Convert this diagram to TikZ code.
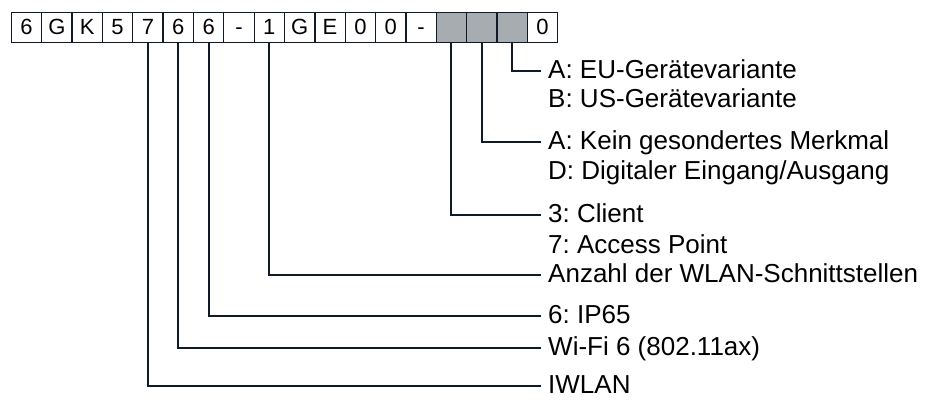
\documentclass[tikz,border=0pt]{standalone}
\usepackage{fontspec}
\setmainfont{Liberation Sans}
\frenchspacing
\definecolor{strich}{RGB}{16,26,40}
\definecolor{grau}{RGB}{166,172,176}
\tikzset{
  feld/.style={draw=strich,line width=1.3pt,minimum width=30.35pt,minimum height=30pt,inner sep=0pt,anchor=north west,text height=15pt,text depth=0pt,font=\fontsize{22}{26}\selectfont},
  weiss/.style={fill=white},
  dunkel/.style={fill=grau},
  beschr/.style={anchor=west,inner sep=0pt,text height=15pt,text depth=0pt,font=\fontsize{26}{30}\selectfont},
  leitung/.style={draw=strich,line width=2pt}
}
\begin{document}
\begin{tikzpicture}[x=1pt,y=-1pt]
\useasboundingbox (0,0) rectangle (933,399);
\foreach \z/\s [count=\i] in {6/weiss,G/weiss,K/weiss,5/weiss,7/weiss,6/weiss,6/weiss,-/weiss,1/weiss,G/weiss,E/weiss,0/weiss,0/weiss,-/weiss,{}/dunkel,{}/dunkel,{}/dunkel,0/weiss}
  \node[feld,\s] (c\i) at ({10.7+(\i-1)*30.35},11.7) {\z};

\node[beschr] (eu) at (548,70.7) {A: EU-Gerätevariante};
\node[beschr] (us) at (548,99.7) {B: US-Gerätevariante};
\node[beschr] (kein) at (548,142.3) {A: Kein gesondertes Merkmal};
\node[beschr] (dig) at (548,172) {D: Digitaler Eingang/Ausgang};
\node[beschr] (client) at (548,215.3) {3: Client};
\node[beschr] (ap) at (548,245.5) {7: Access Point};
\node[beschr] (anzahl) at (548,275) {Anzahl der WLAN-Schnittstellen};
\node[beschr] (ip) at (548,316) {6: IP65};
\node[beschr] (wifi) at (548,347.7) {Wi-Fi 6 (802.11ax)};
\node[beschr] (iwlan) at (548,385.7) {IWLAN};

\draw[leitung] (c17.south) |- ([xshift=-7.5pt]eu.west);
\draw[leitung] (c16.south) |- ([xshift=-7.5pt]kein.west);
\draw[leitung] (c15.south) |- ([xshift=-7.5pt]client.west);
\draw[leitung] (c9.south) |- ([xshift=-7.5pt]anzahl.west);
\draw[leitung] (c7.south) |- ([xshift=-7.5pt]ip.west);
\draw[leitung] (c6.south) |- ([xshift=-7.5pt]wifi.west);
\draw[leitung] (c5.south) |- ([xshift=-7.5pt]iwlan.west);
\end{tikzpicture}
\end{document}
